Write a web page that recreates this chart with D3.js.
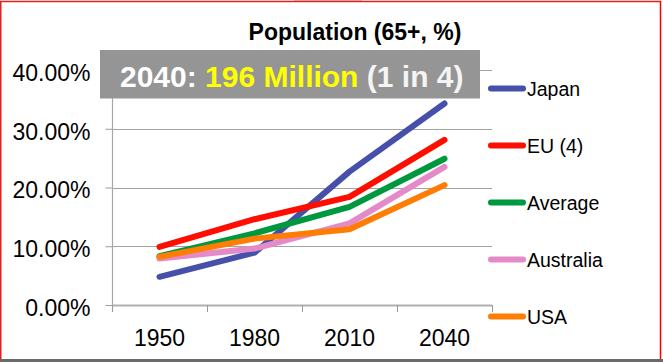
<!DOCTYPE html>
<html>
<head>
<meta charset="utf-8">
<script src="https://cdn.jsdelivr.net/npm/d3@7"></script>
<style>
html, body { margin: 0; padding: 0; background: #fff; }
svg { display: block; font-family: Arial, "Liberation Sans", sans-serif; }
</style>
</head>
<body>
<svg id="chart" width="663" height="362"></svg>
<script>
const categories = ["1950", "1980", "2010", "2040"];
const seriesNames = ["Japan", "EU (4)", "Average", "Australia", "USA"];
const japan = [0.048, 0.089, 0.227, 0.343];
const eu4 = [0.099, 0.146, 0.184, 0.281];
const average = [0.083, 0.122, 0.167, 0.249];
const australia = [0.079, 0.096, 0.139, 0.235];
const usa = [0.082, 0.113, 0.129, 0.204];
const yTicks = [0, 0.1, 0.2, 0.3, 0.4];
const titleText = "Population (65+, %)";
const bannerParts = ["2040: ", "196 Million", " (1 in 4)"];

const seriesValues = [japan, eu4, average, australia, usa];
const colors = ["#4650AB", "#FF0D00", "#00983E", "#E48AC8", "#FF7C05"];

const svg = d3.select("#chart");

// frame
svg.append("rect").attr("x", 294).attr("y", 0).attr("width", 68).attr("height", 1.2).attr("fill", "#b9d3dc");
svg.append("line").attr("x1", 0).attr("x2", 661).attr("y1", 1.5).attr("y2", 1.5).attr("stroke", "#e8201a").attr("stroke-width", 1.5);
svg.append("line").attr("x1", 0.75).attr("x2", 0.75).attr("y1", 1).attr("y2", 359).attr("stroke", "#e8201a").attr("stroke-width", 1.5);
svg.append("line").attr("x1", 660.5).attr("x2", 660.5).attr("y1", 1).attr("y2", 359).attr("stroke", "#ff0000").attr("stroke-width", 1.5);
svg.append("rect").attr("x", 0).attr("y", 359).attr("width", 663).attr("height", 3).attr("fill", "#6a6a6a");

const x = d3.scaleBand().domain(categories).range([112, 492]).padding(0);
const y = d3.scaleLinear().domain([0, 0.4]).range([305, 70]);

// gridlines
svg.append("g").selectAll("line").data(yTicks.filter(d => d > 0)).join("line")
  .attr("x1", 112).attr("x2", 492)
  .attr("y1", d => Math.round(y(d)) + 0.5).attr("y2", d => Math.round(y(d)) + 0.5)
  .attr("stroke", "#a3a3a3").attr("stroke-width", 1);

// y axis
const yAxis = d3.axisLeft(y).tickValues(yTicks).tickSize(7).tickPadding(15)
  .tickFormat(d => (d * 100).toFixed(2) + "%");
const gy = svg.append("g").attr("transform", "translate(112.5,0)").call(yAxis);
gy.select(".domain").remove();
gy.selectAll(".tick line").attr("stroke", "#9a9a9a");
gy.selectAll(".tick text").attr("font-size", 23).attr("fill", "#000")
  .attr("font-family", "Arial, 'Liberation Sans', sans-serif").attr("dy", "0.45em");
svg.append("line").attr("x1", 112.5).attr("x2", 112.5).attr("y1", 70).attr("y2", 312)
  .attr("stroke", "#a8a8a8").attr("stroke-width", 1.2);

// x axis
const xAxis = d3.axisBottom(x).tickSize(0).tickPadding(24);
const gx = svg.append("g").attr("transform", "translate(0,305.5)").call(xAxis);
gx.select(".domain").remove();
gx.selectAll(".tick text").attr("font-size", 23).attr("fill", "#000")
  .attr("font-family", "Arial, 'Liberation Sans', sans-serif");
svg.append("line").attr("x1", 112).attr("x2", 492).attr("y1", 305.5).attr("y2", 305.5)
  .attr("stroke", "#b0b0b0").attr("stroke-width", 2);
const bounds = categories.map(c => x(c)).concat([x(categories[categories.length - 1]) + x.bandwidth()]);
svg.append("g").selectAll("line").data(bounds).join("line")
  .attr("x1", d => Math.round(d) + 0.5).attr("x2", d => Math.round(d) + 0.5)
  .attr("y1", 305).attr("y2", 312)
  .attr("stroke", "#9a9a9a").attr("stroke-width", 1);

// lines
const line = d3.line()
  .x((d, i) => x(categories[i]) + x.bandwidth() / 2)
  .y(d => y(d));
svg.append("g").selectAll("path").data(seriesValues).join("path")
  .attr("d", d => line(d))
  .attr("fill", "none")
  .attr("stroke", (d, i) => colors[i])
  .attr("stroke-width", 6)
  .attr("stroke-linecap", "round")
  .attr("stroke-linejoin", "round");

// banner
svg.append("rect").attr("x", 100).attr("y", 50).attr("width", 380).attr("height", 48.5).attr("fill", "#959595");
const bt = svg.append("text").attr("x", 120).attr("y", 86.5)
  .attr("font-size", 30).attr("font-weight", "bold")
  .attr("font-family", "Arial, 'Liberation Sans', sans-serif");
bt.append("tspan").text(bannerParts[0]).attr("fill", "#ffffff");
bt.append("tspan").text(bannerParts[1]).attr("fill", "#ffff00");
bt.append("tspan").text(bannerParts[2]).attr("fill", "#f4f4f4");

// title
svg.append("text").attr("x", 355).attr("y", 40).attr("text-anchor", "middle")
  .attr("font-size", 23).attr("font-weight", "bold").attr("fill", "#000")
  .text(titleText);

// legend
const legendY = [88.5, 145.5, 202.5, 259.5, 316.5];
const lg = svg.append("g").selectAll("g").data(seriesNames).join("g")
  .attr("transform", (d, i) => `translate(0,${legendY[i]})`);
lg.append("line").attr("x1", 491).attr("x2", 523).attr("y1", 0).attr("y2", 0)
  .attr("stroke", (d, i) => colors[i]).attr("stroke-width", 6).attr("stroke-linecap", "round");
lg.append("text").attr("x", 527).attr("y", 7.5).attr("font-size", 19.5).attr("fill", "#000")
  .text(d => d);
</script>
</body>
</html>
